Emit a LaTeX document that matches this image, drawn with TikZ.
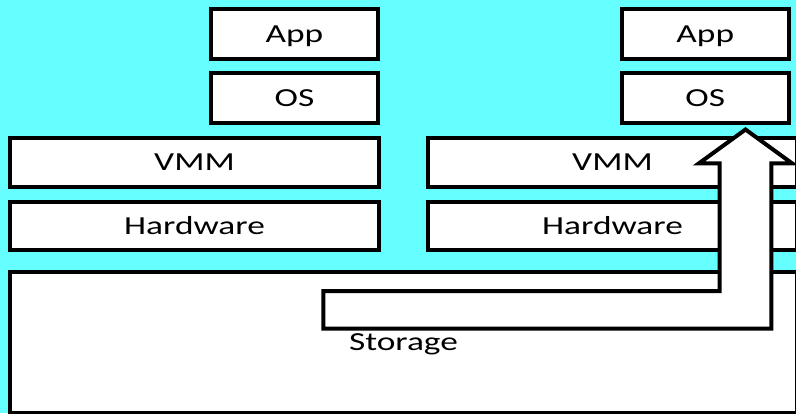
\documentclass[tikz,border=0pt]{standalone}
\usepackage{fontspec}
\setmainfont{Carlito}[FakeStretch=1.36]
\definecolor{bgcyan}{RGB}{102,255,255}
\begin{document}
\begin{tikzpicture}[x=1pt,y=-1pt,
  layer/.style={draw=black,fill=white,line width=4pt,rectangle,inner sep=0pt,
    text height=16.5pt,text depth=0pt,font=\fontsize{26}{30}\selectfont},
  blockarrow/.style={draw=black,fill=white,line width=4pt}]
\useasboundingbox (0,0) rectangle (796,413);
\fill[bgcyan] (0,0) rectangle (796,413);
% left stack
\node[layer,minimum width=167pt,minimum height=49.5pt] (appL) at (294.5,34) {App};
\node[layer,minimum width=167pt,minimum height=50pt] (osL) at (294.5,98) {OS};
\node[layer,minimum width=369pt,minimum height=49.3pt] (vmmL) at (194.5,162.3) {VMM};
\node[layer,minimum width=369pt,minimum height=48pt] (hwL) at (194.5,226) {Hardware};
% right stack
\node[layer,minimum width=167pt,minimum height=49.5pt] (appR) at (705.3,34) {App};
\node[layer,minimum width=167pt,minimum height=50pt] (osR) at (705.3,98) {OS};
\node[layer,minimum width=369pt,minimum height=49.3pt] (vmmR) at (612.5,162.3) {VMM};
\node[layer,minimum width=369pt,minimum height=48pt] (hwR) at (612.5,226) {Hardware};
% storage
\node[layer,minimum width=787pt,minimum height=141pt] (storage) at (403.5,342.5) {Storage};
% migration arrow
\draw[blockarrow] (323.3,291) -- (719.7,291) -- (719.7,163.3) -- (699,163.3)
  -- (745.5,129.5) -- (792,163.3) -- (771.3,163.3) -- (771.3,328.7)
  -- (323.3,328.7) -- cycle;
\end{tikzpicture}
\end{document}
